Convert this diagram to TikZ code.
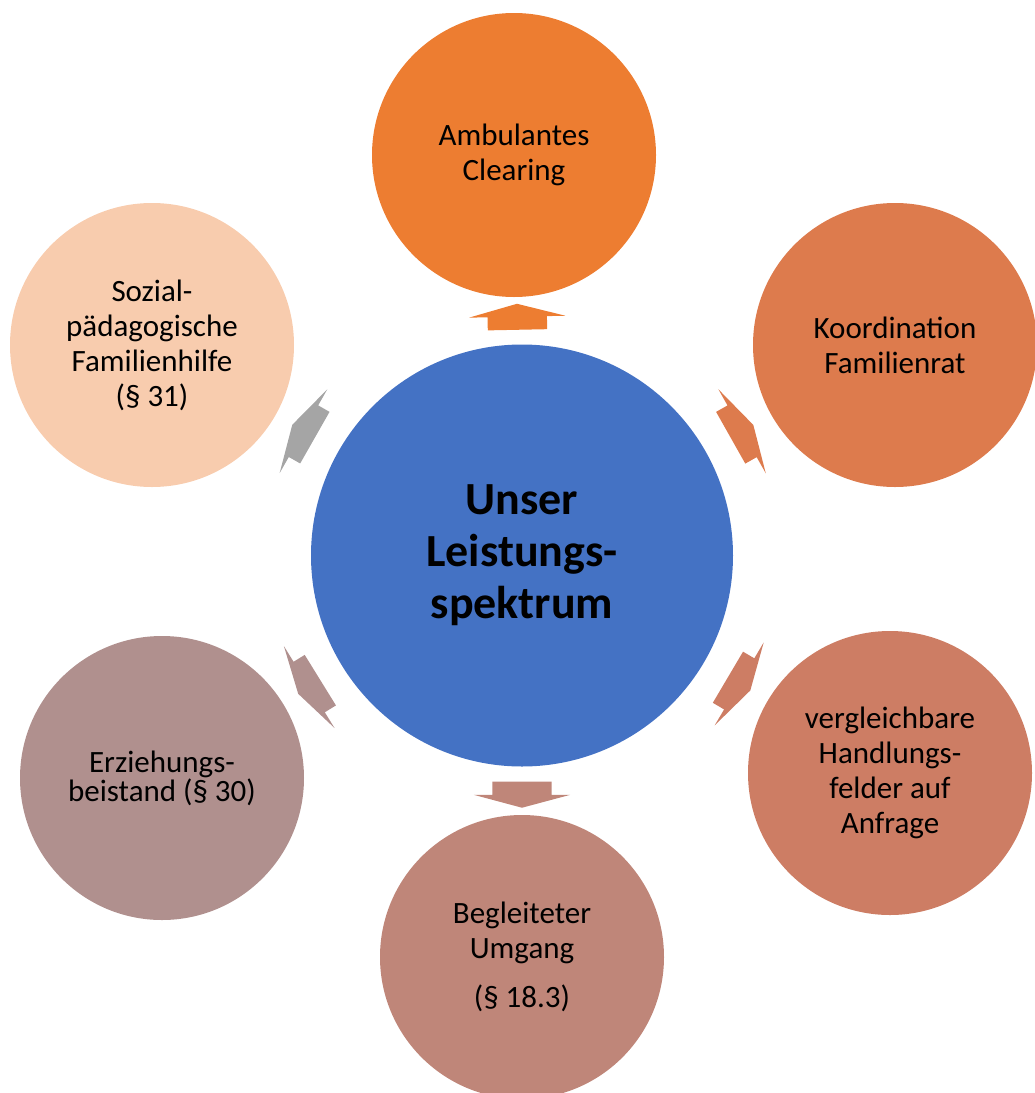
\documentclass[tikz,border=0pt]{standalone}
\usepackage{fontspec}
\setmainfont{Carlito}
\usetikzlibrary{shapes.arrows}
\definecolor{hubblue}{HTML}{4472C4}
\definecolor{clearingorange}{HTML}{ED7D31}
\definecolor{familienratorange}{HTML}{DD7B4D}
\definecolor{anfrageorange}{HTML}{CD7D64}
\definecolor{umgangbrown}{HTML}{BF8679}
\definecolor{beistandmauve}{HTML}{B0908E}
\definecolor{familienhilfepeach}{HTML}{F8CCAE}
\definecolor{arrowgray}{HTML}{A5A5A5}

\begin{document}
\begin{tikzpicture}[x=1pt,y=-1pt,
	hub/.style={circle,fill=hubblue,minimum size=422pt,inner sep=0pt,align=center,font=\fontsize{46}{52}\selectfont\bfseries},
	leaf/.style={circle,minimum size=284pt,inner sep=0pt,align=center,font=\fontsize{31}{35}\selectfont},
	spoke/.style={single arrow,sloped,allow upside down,pos=0.5,inner xsep=0pt,inner ysep=29.5pt,minimum height=26pt,single arrow head extend=18.5pt,single arrow tip angle=150}]
		\useasboundingbox (0,0) rectangle (1035,1093);
		\node[hub] (hub) at (522,555.5) {Unser\\Leistungs-\\spektrum};
		\node[leaf,fill=clearingorange] (clearing) at (514,155) {Ambulantes\\Clearing};
		\node[leaf,fill=familienratorange] (familienrat) at (895,345) {Koordination\\Familienrat};
		\node[leaf,fill=anfrageorange] (anfrage) at (890,773) {vergleichbare\\Handlungs-\\felder auf\\Anfrage};
		\node[leaf,fill=umgangbrown] (umgang) at (522,957) {Begleiteter\\Umgang\\[14pt](§ 18.3)};
		\node[leaf,fill=beistandmauve,font=\fontsize{31}{28}\selectfont] (beistand) at (162,778) {Erziehungs-\\beistand (§ 30)};
		\node[leaf,fill=familienhilfepeach] (familienhilfe) at (152,345) {Sozial-\\pädagogische\\Familienhilfe\\(§ 31)};
		\foreach \n/\c in {clearing/clearingorange,familienrat/familienratorange,anfrage/anfrageorange,umgang/umgangbrown,beistand/beistandmauve,familienhilfe/arrowgray}
		\path (hub) -- (\n) node[spoke,fill=\c] (arrow-\n) {};
	\end{tikzpicture}
\end{document}
